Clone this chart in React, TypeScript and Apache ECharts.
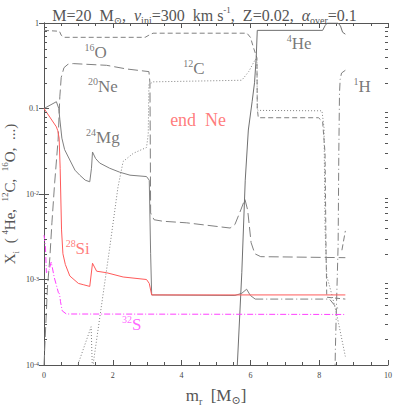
import React, { useEffect, useRef } from 'react';
import * as echarts from 'echarts';

const FONT = '"Liberation Serif", "DejaVu Serif", serif';
const GRAY = '#808080';
const DARK = '#555555';
const RED = '#ff5a5a';
const MAGENTA = '#ff40ff';

const X_TICKS = [0, 2, 4, 6, 8, 10];
const Y_MAJOR = [1e-4, 1e-3, 1e-2, 0.1, 1];
const Y_MINOR_MULT = [2, 3, 4, 5, 6, 7, 8, 9];
const Y_DECADES = [1e-4, 1e-3, 1e-2, 0.1];

// 4He (solid)
const HE4: [number, number][] = [
  [5.58, 5e-5], [5.62, 1e-4], [5.75, 1.2e-3], [5.85, 0.0145], [5.94, 0.056], [6.05, 0.12],
  [6.12, 0.2], [6.17, 0.4], [6.2, 0.82], [8.1, 0.82], [8.17, 0.93], [8.23, 1.0], [8.55, 1.0],
  [8.62, 0.92], [8.68, 0.78], [8.76, 0.74],
];
// 12C (dotted)
const C12: [number, number][] = [
  [0.97, 8e-5], [1.0, 1.05e-4], [1.37, 2.8e-4], [1.39, 2.8e-4], [1.41, 8e-5], [1.42, 8e-5],
  [1.44, 1.1e-4], [1.9, 2.2e-3], [2.15, 0.012], [2.3, 0.024], [2.6, 0.03], [2.98, 0.035],
  [3.03, 0.05], [3.05, 0.19], [3.17, 0.205], [5.75, 0.214], [5.95, 0.27], [6.15, 0.38],
  [6.19, 0.35], [6.2, 0.1], [6.22, 0.095], [8.08, 0.094], [8.14, 0.06], [8.17, 0.004],
  [8.22, 1.1e-3], [8.37, 6.6e-4], [8.51, 3.9e-4], [8.76, 1.26e-4],
];
// 16O (dashed)
const O16: [number, number][] = [
  [0, 0.82], [0.45, 0.8], [0.5, 0.72], [0.58, 0.68], [2.94, 0.68], [3.05, 0.72], [3.17, 0.76],
  [5.9, 0.76], [6.0, 0.68], [6.1, 0.5], [6.19, 0.39], [6.2, 0.1], [6.23, 0.078], [7.98, 0.078],
  [8.1, 0.07], [8.17, 0.03], [8.2, 0.002], [8.22, 6.2e-4], [8.76, 5.9e-4],
];
// 20Ne (long dash)
const NE20: [number, number][] = [
  [0, 1e-4], [0.1, 8e-4], [0.17, 1.8e-3], [0.23, 4.6e-3], [0.31, 0.0135], [0.41, 0.043],
  [0.46, 0.137], [0.5, 0.23], [0.58, 0.3], [0.7, 0.33], [0.85, 0.335], [1.82, 0.32],
  [2.4, 0.29], [3.05, 0.27], [3.08, 0.2], [3.1, 0.006], [3.2, 5.0e-3], [3.46, 4.8e-3],
  [4.15, 4.6e-3], [5.41, 4.0e-3], [5.55, 4.4e-3], [5.72, 6.5e-3], [5.84, 8.7e-3],
  [5.92, 6.5e-3], [6.02, 2.7e-3], [6.13, 2.0e-3], [6.3, 1.85e-3], [8.76, 1.8e-3],
];
const NE20_TAIL: [number, number][] = [[8.66, 2.2e-3], [8.76, 3.7e-3]];
// 24Mg (thin solid, then dash-dot)
const MG24: [number, number][] = [
  [0, 0.1], [0.36, 0.12], [0.43, 0.1], [0.46, 0.075], [0.52, 0.045], [0.6, 0.033],
  [0.75, 0.025], [0.9, 0.019], [1.04, 0.0166], [1.2, 0.0145], [1.33, 0.0139], [1.38, 0.02],
  [1.41, 0.031], [1.5, 0.026], [1.62, 0.023], [1.91, 0.02], [2.2, 0.018], [2.5, 0.0166],
  [2.98, 0.016], [3.06, 0.0145], [3.1, 0.002], [3.13, 6.6e-4], [5.55, 6.5e-4], [5.75, 6.9e-4],
  [5.89, 7.7e-4], [6.0, 6.5e-4], [6.14, 5.9e-4],
];
const MG24_TAIL: [number, number][] = [[6.14, 5.9e-4], [8.3, 5.9e-4], [8.5, 4.7e-4], [8.56, 4.6e-4]];
// 28Si (red)
const SI28: [number, number][] = [
  [0, 0.1], [0.36, 0.061], [0.4, 0.055], [0.44, 0.045], [0.47, 0.02], [0.51, 3.8e-3],
  [0.55, 2.0e-3], [0.62, 1.5e-3], [0.75, 1.1e-3], [1.0, 9e-4], [1.14, 8.7e-4], [1.33, 8.3e-4],
  [1.41, 1.55e-3], [1.53, 1.25e-3], [1.82, 1.2e-3], [2.3, 1.07e-3], [2.98, 1.0e-3],
  [3.06, 9e-4], [3.13, 6.6e-4], [8.76, 6.6e-4],
];
// 32S (magenta dash-dot)
const S32: [number, number][] = [
  [0, 3.3e-3], [0.04, 2.5e-3], [0.07, 1.2e-3], [0.15, 1.3e-3], [0.21, 1.6e-3], [0.3, 1.05e-3],
  [0.42, 7e-4], [0.45, 6.8e-4], [0.48, 5.5e-4], [0.53, 4.3e-4], [0.65, 3.95e-4], [8.76, 3.9e-4],
];
// 1H (dash-dot)
const H1: [number, number][] = [
  [8.45, 5e-5], [8.47, 1.5e-4], [8.5, 4.6e-4], [8.55, 2.5e-3], [8.57, 0.03], [8.59, 0.15],
  [8.61, 0.22], [8.65, 0.26], [8.76, 0.28],
];

// in-plot labels: [x, y, text, colour]
const LABELS: [number, number, string, string][] = [
  [1.5, 0.455, '{s|16}{n|O}', DARK],
  [1.71, 0.182, '{s|20}{n|Ne}', DARK],
  [1.71, 0.046, '{s|24}{n|Mg}', DARK],
  [4.36, 0.296, '{s|12}{n|C}', DARK],
  [7.42, 0.58, '{s|4}{n|He}', DARK],
  [9.25, 0.182, '{s|1}{n|H}', DARK],
  [4.48, 0.073, '{b|end  Ne}', RED],
  [0.98, 2.33e-3, '{s|28}{n|Si}', RED],
  [2.55, 2.95e-4, '{s|32}{n|S}', MAGENTA],
];

function line(name: string, data: [number, number][], color: string, type: any, width = 1) {
  return {
    name,
    type: 'line',
    data,
    symbol: 'none',
    showSymbol: false,
    clip: true,
    silent: true,
    lineStyle: { color, width, type },
    z: 3,
  };
}

export default function App() {
  const ref = useRef<HTMLDivElement>(null);
  useEffect(() => {
    if (!ref.current) return;
    const chart = echarts.init(ref.current, undefined, { renderer: 'svg' });
    const minor: number[][] = [];
    Y_DECADES.forEach((d) => Y_MINOR_MULT.forEach((m) => minor.push([0, d * m])));

    const labelRich = (color: string) => ({
      s: { fontFamily: FONT, fontSize: 10, color, verticalAlign: 'top' },
      n: { fontFamily: FONT, fontSize: 17, color, lineHeight: 20 },
      b: { fontFamily: FONT, fontSize: 18, color, lineHeight: 20 },
    });

    const axisCommon = {
      axisLine: { show: true, lineStyle: { color: DARK, width: 1 } },
      splitLine: { show: false },
    };

    chart.setOption({
      animation: false,
      backgroundColor: '#ffffff',
      title: {
        left: 'center',
        top: 0,
        text: 'M=20  M{sun|⊙},  {it|v}{sub|ini}=300  km s{sup|-1},  Z=0.02,  {it|α}{sub|over}=0.1',
        textStyle: {
          fontFamily: FONT,
          fontSize: 16,
          fontWeight: 'normal',
          color: DARK,
          lineHeight: 20,
          rich: {
            sun: { fontFamily: '"DejaVu Serif", serif', fontSize: 10, color: DARK, verticalAlign: 'bottom', lineHeight: 14 },
            it: { fontFamily: FONT, fontSize: 16, fontStyle: 'italic', color: DARK, lineHeight: 20 },
            sub: { fontFamily: FONT, fontSize: 10, color: DARK, verticalAlign: 'bottom' },
            sup: { fontFamily: FONT, fontSize: 9, color: DARK, verticalAlign: 'top' },
          },
        },
      },
      grid: { left: 44, right: 21, top: 23, bottom: 44, containLabel: false, outerBoundsMode: 'none' },
      xAxis: [
        {
          type: 'value', min: 0, max: 10, interval: 2, position: 'bottom',
          ...axisCommon,
          axisTick: { show: true, inside: true, length: 5, lineStyle: { color: DARK } },
          minorTick: { show: true, splitNumber: 4, length: 3, lineStyle: { color: DARK } },
          axisLabel: {
            fontFamily: FONT, fontSize: 8, color: '#444', margin: 6,
            formatter: (v: number) => (X_TICKS.includes(v) ? String(v) : ''),
          },
          name: 'm{sub|r}  [M{sun|⊙}]',
          nameLocation: 'middle',
          nameGap: 19,
          nameMoveOverlap: false,
          nameTextStyle: {
            fontFamily: FONT, fontSize: 17, color: DARK, lineHeight: 22,
            rich: {
              sub: { fontFamily: FONT, fontSize: 10, color: DARK, verticalAlign: 'bottom' },
              sun: { fontFamily: '"DejaVu Serif", serif', fontSize: 11, color: DARK, verticalAlign: 'bottom', lineHeight: 16 },
            },
          },
        },
        {
          type: 'value', min: 0, max: 10, interval: 2, position: 'top',
          ...axisCommon,
          axisTick: { show: true, inside: true, length: 5, lineStyle: { color: DARK } },
          minorTick: { show: true, splitNumber: 4, length: 3, lineStyle: { color: DARK } },
          axisLabel: { show: false },
        },
      ],
      yAxis: [
        {
          type: 'log', logBase: 10, min: 1e-4, max: 1, position: 'left',
          ...axisCommon,
          axisTick: { show: true, inside: true, length: 5, lineStyle: { color: DARK } },
          minorTick: { show: false },
          axisLabel: {
            fontFamily: FONT, fontSize: 8, color: '#444', margin: 5,
            formatter: (v: number) => {
              if (!Y_MAJOR.some((t) => Math.abs(t - v) / t < 1e-6)) return '';
              if (v >= 0.99) return '1';
              if (Math.abs(v - 0.1) < 1e-9) return '0.1';
              const e = Math.round(Math.log10(v));
              return '10{s|' + e + '}';
            },
            rich: { s: { fontFamily: FONT, fontSize: 6, color: '#444', verticalAlign: 'top' } },
          },
          name: 'X{sub|i}  ( {sup|4}He,  {sup|12}C,  {sup|16}O,  ...)',
          nameLocation: 'middle',
          nameGap: 24,
          nameMoveOverlap: false,
          nameTextStyle: {
            fontFamily: FONT, fontSize: 15, color: DARK, lineHeight: 20,
            rich: {
              sub: { fontFamily: FONT, fontSize: 9, color: DARK, verticalAlign: 'bottom' },
              sup: { fontFamily: FONT, fontSize: 9, color: DARK, verticalAlign: 'top' },
            },
          },
        },
        {
          type: 'log', logBase: 10, min: 1e-4, max: 1, position: 'right',
          ...axisCommon,
          axisTick: { show: true, inside: true, length: 5, lineStyle: { color: DARK } },
          axisLabel: { show: false },
        },
      ],
      series: [
        {
          type: 'custom',
          silent: true,
          data: minor,
          encode: { x: 0, y: 1 },
          clip: false,
          z: 5,
          renderItem: (params: any, api: any) => {
            const p = api.coord([0, api.value(1)]);
            const cs = params.coordSys;
            const y = Math.round(p[1]) + 0.5;
            return {
              type: 'group',
              children: [
                { type: 'line', shape: { x1: cs.x, y1: y, x2: cs.x + 3, y2: y }, style: { stroke: DARK, lineWidth: 1 } },
                { type: 'line', shape: { x1: cs.x + cs.width, y1: y, x2: cs.x + cs.width - 3, y2: y }, style: { stroke: DARK, lineWidth: 1 } },
              ],
            };
          },
        },
        line('16O', O16, GRAY, [5, 3]),
        line('20Ne', NE20, GRAY, [10, 4]),
        line('20Ne tail', NE20_TAIL, GRAY, [6, 3]),
        line('12C', C12, GRAY, [1, 2]),
        line('24Mg', MG24, GRAY, 'solid'),
        line('24Mg tail', MG24_TAIL, GRAY, [8, 3, 1, 3]),
        line('1H', H1, GRAY, [8, 3, 1, 3]),
        line('4He', HE4, '#707070', 'solid'),
        line('32S', S32, MAGENTA, [6, 2, 1, 2]),
        line('28Si', SI28, RED, 'solid'),
        {
          type: 'scatter',
          silent: true,
          symbolSize: 0,
          z: 6,
          data: LABELS.map(([x, y, text, color]) => ({
            value: [x, y],
            label: {
              show: true,
              position: 'inside',
              formatter: text,
              rich: labelRich(color),
            },
          })),
        },
      ],
    });
    return () => chart.dispose();
  }, []);
  return (
    <div
      ref={ref}
      style={{ position: 'fixed', left: 0, top: 0, width: 409, height: 409, background: '#fff' }}
    />
  );
}
